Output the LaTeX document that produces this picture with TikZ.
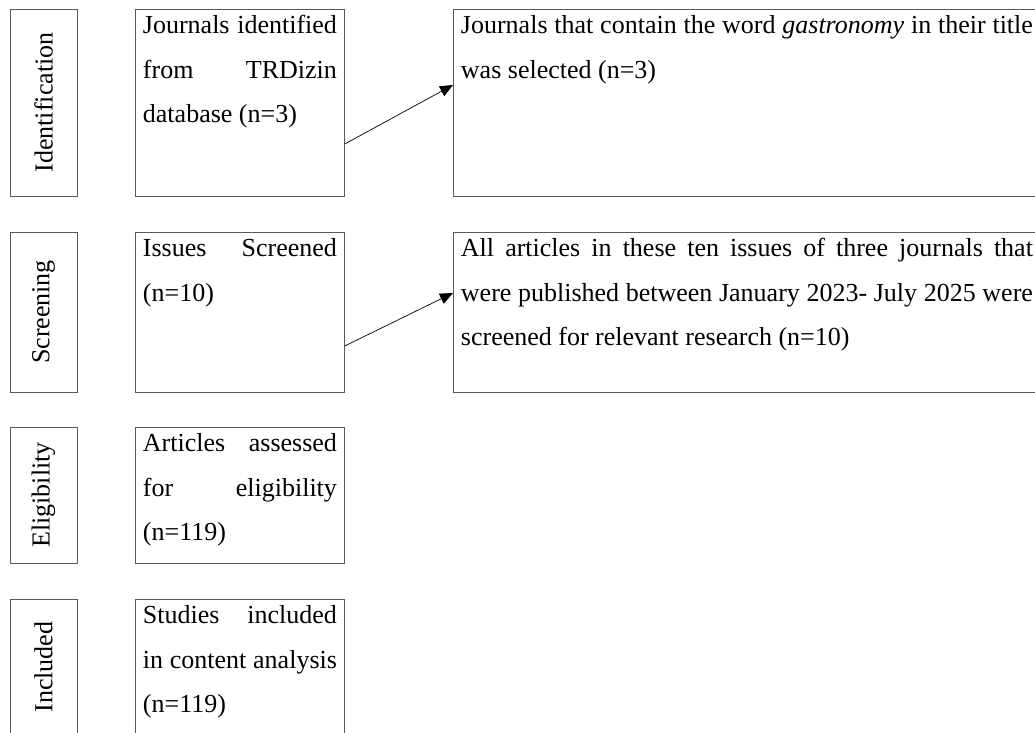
\documentclass[tikz,border=0pt]{standalone}
\usepackage{fontspec}
\setmainfont{Liberation Serif}
\usetikzlibrary{calc}
\usetikzlibrary{arrows.meta}

\tikzset{
  phase/.style={draw=black!65, line width=0.9pt, rotate=90, inner sep=0pt,
    font=\fontsize{26}{31}\selectfont},
  stagebox/.style={draw=black!65, line width=0.9pt, anchor=north west,
    inner xsep=7.5pt, inner ysep=0pt, font=\fontsize{26}{44.5}\selectfont},
  link/.style={black, line width=0.7pt, -{Triangle[length=13pt,width=11pt]}},
}
\newcommand{\boxtext}[3]{\parbox[t][#2][t]{#1}{\tolerance=10000\hyphenpenalty=10000\rule{0pt}{24.5pt}#3}}

\begin{document}
\begin{tikzpicture}[x=1pt,y=-1pt]
\useasboundingbox (0,0) rectangle (1035,732);

% phase labels
\node[phase, minimum width=187pt, minimum height=67pt] (idph) at (43.5,102.5) {Identification};
\node[phase, minimum width=160pt, minimum height=67pt] (scph) at (43.5,312) {Screening};
\node[phase, minimum width=136pt, minimum height=67pt] (elph) at (43.5,495) {Eligibility};
\node[phase, minimum width=136pt, minimum height=67pt] (inph) at (43.5,667) {Included};

% stage boxes
\node[stagebox] (idj) at (135,9) {\boxtext{194pt}{187pt}{Journals identified\linebreak from TRDizin\linebreak database (n=3)}};
\node[stagebox] (scj) at (135,232) {\boxtext{194pt}{160pt}{Issues Screened\linebreak (n=10)}};
\node[stagebox] (elj) at (135,427) {\boxtext{194pt}{136pt}{Articles assessed\linebreak for eligibility\linebreak (n=119)}};
\node[stagebox] (inj) at (135,599) {\boxtext{194pt}{136pt}{Studies included\linebreak in content analysis\linebreak (n=119)}};

\node[stagebox] (idsel) at (453,9) {\boxtext{572pt}{187pt}{Journals that contain the word \textit{gastronomy} in their title was selected (n=3)}};
\node[stagebox] (scsel) at (453,232) {\boxtext{572pt}{160pt}{All articles in these ten issues of three journals that\linebreak were published between January 2023- July 2025 were\linebreak screened for relevant research (n=10)}};

% arrows
\draw[link] ($(idj.south east)+(0,-53)$) -- ($(idsel.north west)+(0,76)$);
\draw[link] ($(scj.south east)+(0,-47)$) -- ($(scsel.north west)+(0,61)$);

\end{tikzpicture}
\end{document}
